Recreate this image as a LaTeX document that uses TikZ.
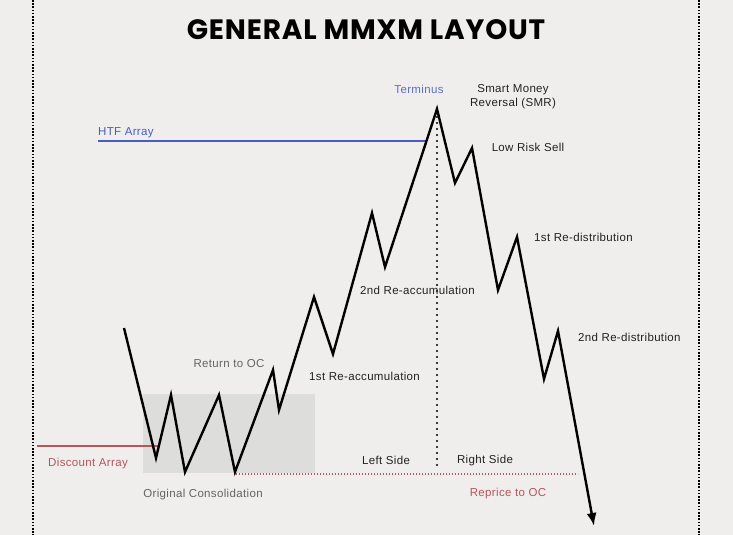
\documentclass[tikz,border=0pt]{standalone}
\usepackage{fontspec}
\setmainfont{Liberation Sans}[LetterSpace=3]
\newfontfamily\titlefont{Poppins}[LetterSpace=3]
\usetikzlibrary{arrows.meta,positioning}
\definecolor{paper}{RGB}{239,238,237}
\definecolor{ocgrey}{RGB}{221,221,220}
\definecolor{htfblue}{RGB}{74,92,192}
\definecolor{termblue}{RGB}{96,110,200}
\definecolor{discred}{RGB}{184,84,90}
\definecolor{ink}{RGB}{34,34,34}
\definecolor{softgrey}{RGB}{100,100,100}
\tikzset{tag/.style={font=\fontsize{11.5}{13.5}\selectfont, text=ink, inner sep=0pt, align=center, yshift=-1.5pt}}
\tikzset{price/.style={draw, line width=2.4pt, -{Latex[length=13pt,width=10pt]}}}
\tikzset{border/.style={draw, line width=2pt, dash pattern=on 1.6pt off 1.6pt}}
\tikzset{sideline/.style={draw, line width=2.2pt, line cap=round, dash pattern=on 0pt off 6pt}}
\tikzset{repriceline/.style={draw=discred, line width=1.6pt, dash pattern=on 1.4pt off 1.6pt}}

\begin{document}
\begin{tikzpicture}[x=1pt, y=-1pt]
        \useasboundingbox[fill=paper] (0,0) rectangle (733,535);
        % frame
        \coordinate (frameLT) at (33,0);
        \coordinate (frameLB) at (33,535);
        \coordinate (frameRT) at (699,0);
        \coordinate (frameRB) at (699,535);
        \path[border] (frameLT) -- (frameLB);
        \path[border] (frameRT) -- (frameRB);

        % original consolidation box
        \fill[ocgrey] (143,394) rectangle (315,473);

        % arrays
        \coordinate (htfL) at (98,141);
        \coordinate (htfR) at (426,141);
        \coordinate (discL) at (37,446);
        \coordinate (discR) at (159,446);
        \coordinate (repL) at (236,474);
        \coordinate (repR) at (578,474);
        \path[draw=htfblue, line width=2pt] (htfL) -- (htfR);
        \path[draw=discred, line width=2.8pt] (discL) -- (discR);
        \path[repriceline] (repL) -- (repR);

        % price swings
        \foreach \x/\y [count=\i] in {124/328, 156/458, 171/395, 185/472, 219/395, 235/472,
          273/370, 279/410, 314/297, 333/354, 372/213, 385/267, 437/109, 455/183, 472/148,
          498/290, 517/237, 544/379, 558/331, 594/526}
          \coordinate (p\i) at (\x,\y);
        \coordinate (sideEnd) at (437,467);
        \path[sideline] ([yshift=-8pt]p13) -- (sideEnd);
        \path[price] (p1) \foreach \i in {2,...,20}{ -- (p\i)};

        % labels
        \node[font=\titlefont\bfseries\fontsize{28}{31}\selectfont] (title) at (366,30) {GENERAL MMXM LAYOUT};
        \node[tag, text=htfblue, anchor=west] (htf) at (98,131) {HTF Array};
        \node[tag, text=termblue] (terminus) at (419,88) {Terminus};
        \node[tag] (smr) at (513,95) {Smart Money\\Reversal (SMR)};
        \node[tag] (lowrisk) at (528,146) {Low Risk Sell};
        \node[tag, anchor=west] (redist1) at (534,236) {1st Re-distribution};
        \node[tag, anchor=west] (redist2) at (578,336) {2nd Re-distribution};
        \node[tag, anchor=west] (reacc2) at (360,289) {2nd Re-accumulation};
        \node[tag, anchor=west] (reacc1) at (309,375) {1st Re-accumulation};
        \node[tag, text=softgrey] (returnoc) at (229,362) {Return to OC};
        \node[tag, text=discred] (discount) at (88,462) {Discount Array};
        \node[tag, text=softgrey] (origcons) at (203,493) {Original Consolidation};
        \node[tag] (leftside) at (386,459) {Left Side};
        \node[tag] (rightside) at (485,459) {Right Side};
        \node[tag, text=discred] (reprice) at (508,492) {Reprice to OC};
     \end{tikzpicture}
\end{document}
